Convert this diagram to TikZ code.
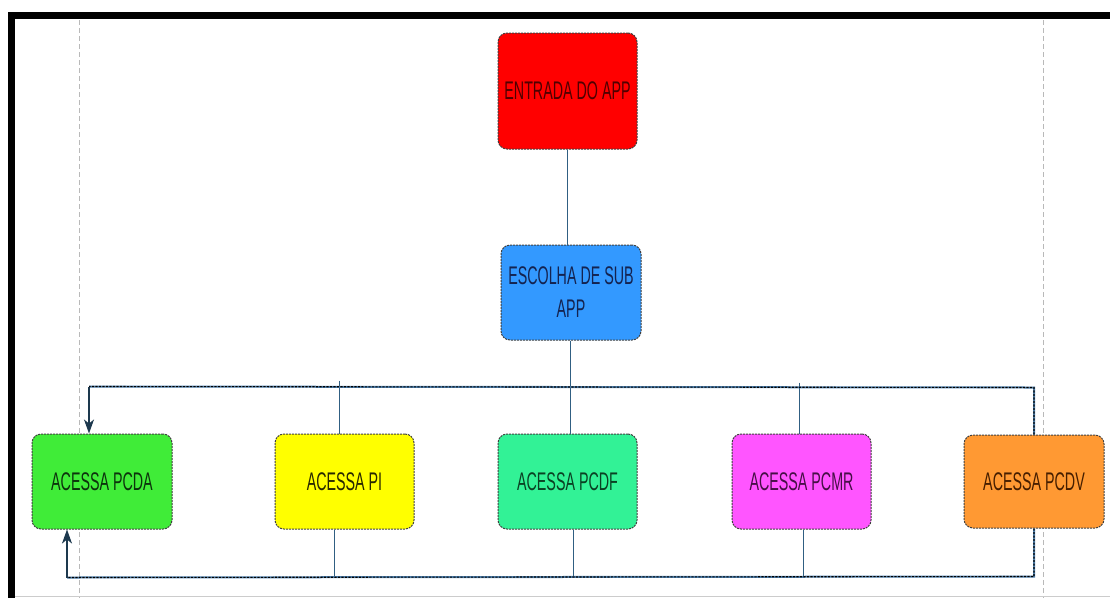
\documentclass[tikz,border=0pt]{standalone}
\usepackage{fontspec}
\newfontfamily\boxfont{Liberation Sans}[FakeStretch=0.56]
\usetikzlibrary{arrows.meta,calc}

\definecolor{cRed}{RGB}{255,0,0}
\definecolor{tRed}{RGB}{80,0,0}
\definecolor{cBlue}{RGB}{51,153,255}
\definecolor{tBlue}{RGB}{20,35,80}
\definecolor{cGreen}{RGB}{64,236,56}
\definecolor{tGreen}{RGB}{12,50,12}
\definecolor{cYellow}{RGB}{255,255,0}
\definecolor{tYellow}{RGB}{40,40,0}
\definecolor{cMint}{RGB}{50,242,150}
\definecolor{tMint}{RGB}{10,65,35}
\definecolor{cPink}{RGB}{255,85,255}
\definecolor{tPink}{RGB}{70,15,70}
\definecolor{cOrange}{RGB}{255,153,51}
\definecolor{tOrange}{RGB}{70,30,0}
\definecolor{wire}{RGB}{48,95,130}
\definecolor{busblue}{RGB}{80,130,175}

\tikzset{
  stepbox/.style={rectangle, rounded corners=9pt, minimum width=140pt,
    minimum height=95pt, inner sep=0pt, draw=black!75, line width=1pt,
    dash pattern=on 2pt off 1pt, align=center,
    font=\boxfont\fontsize{25.5}{33}\selectfont},
  link/.style={draw=wire, line width=0.9pt},
  bus/.style={draw=black, line width=1.1pt, dash pattern=on 2.2pt off 1.3pt,
    preaction={draw=busblue, line width=2pt, solid}},
  tip/.style={draw=wire!60!black, line width=1.4pt,
    -{Stealth[length=14pt,width=10pt,inset=4pt]}},
  guide/.style={draw=gray!55, line width=0.6pt, dash pattern=on 5pt off 3pt},
}

\begin{document}
\begin{tikzpicture}[x=1pt,y=-1pt]
  \useasboundingbox (0,0) rectangle (1110,598);
  \fill[white] (0,0) rectangle (1110,598);

  % page frame and guides
  \draw[guide] (79,20) -- (79,598);
  \draw[guide] (1043,20) -- (1043,598);
  \draw[gray!40, line width=0.8pt] (15,596.5) -- (1110,596.5);
  \draw[black, line width=7pt] (8,15.5) -- (1110,15.5);
  \draw[black, line width=7pt] (11.5,12) -- (11.5,598);

  % nodes
  \node[stepbox, fill=cRed, text=tRed, minimum width=139pt, minimum height=116pt]
    (entrada) at (567.5,91) {ENTRADA DO APP};
  \node[stepbox, fill=cBlue, text=tBlue] (escolha) at (571,292.5)
    {ESCOLHA DE SUB\\APP};

  \node[stepbox, fill=cGreen, text=tGreen] (pcda) at (102,481.5) {ACESSA PCDA};
  \node[stepbox, fill=cYellow, text=tYellow, minimum width=139pt] (pi) at (344.5,481.5) {ACESSA PI};
  \node[stepbox, fill=cMint, text=tMint, minimum width=139pt] (pcdf) at (567.5,481.5) {ACESSA PCDF};
  \node[stepbox, fill=cPink, text=tPink, minimum width=139pt] (pcmr) at (801.5,481.5) {ACESSA PCMR};
  \node[stepbox, fill=cOrange, text=tOrange, minimum height=93pt] (pcdv) at (1034,481.5) {ACESSA PCDV};

  % bus anchor points
  \coordinate (topL) at ($(pcda.north)+(-13,-47)$);
  \coordinate (topR) at ($(pcdv.north)+(0,-47)$);
  \coordinate (botL) at ($(pcda.south)+(-35,48)$);
  \coordinate (botR) at ($(pcdv.south)+(0,48)$);

  % connectors
  \draw[link] (entrada.south) -- (entrada.south |- escolha.north);
  \draw[link] ($(escolha.south)+(-1,0)$) -- ($(pcdf.north)+(2.5,0)$);
  \draw[link] ($(pi.north)+(-5.5,-53)$) -- ($(pi.north)+(-5.5,0)$);
  \draw[link] ($(pcmr.north)+(-2.5,-51)$) -- ($(pcmr.north)+(-2.5,0)$);
  \draw[link] ($(pi.south)+(-10.5,0)$) -- ($(pi.south)+(-10.5,48)$);
  \draw[link] ($(pcdf.south)+(5.5,0)$) -- ($(pcdf.south)+(5.5,48)$);
  \draw[link] ($(pcmr.south)+(1.5,0)$) -- ($(pcmr.south)+(1.5,48)$);

  \draw[bus] (pcdv.north) -- (topR) -- (topL);
  \draw[bus] (pcdv.south) -- (botR) -- (botL);
  \draw[tip] (topL) -- ($(pcda.north)+(-13,0)$);
  \draw[tip] (botL) -- ($(pcda.south)+(-35,0)$);
\end{tikzpicture}
\end{document}
